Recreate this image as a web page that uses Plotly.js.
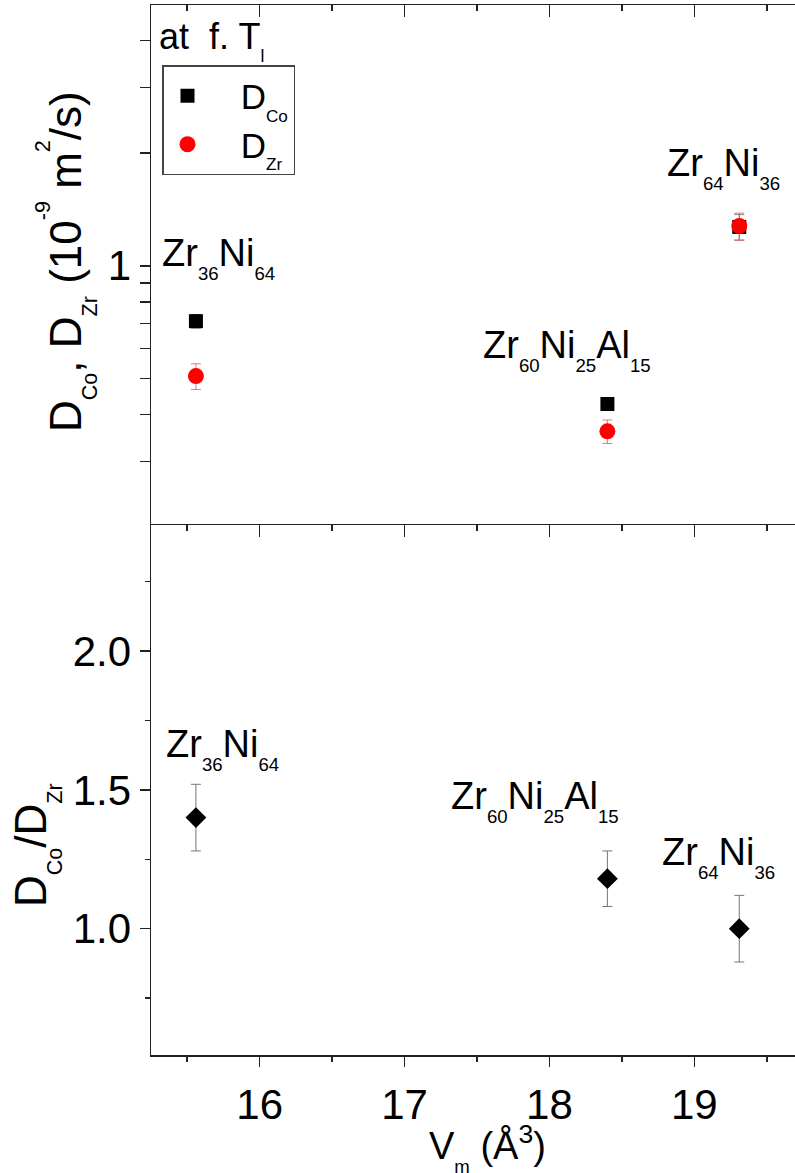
<!DOCTYPE html>
<html>
<head>
<meta charset="utf-8">
<script src="https://cdn.plot.ly/plotly-3.0.1.min.js"></script>
<style>
html,body{margin:0;padding:0;overflow:hidden;background:#fff;}
#chart{width:804px;height:1173px;}
</style>
</head>
<body>
<div id="chart"></div>
<script>
// ---- data ----
const compositions = ['Zr36Ni64', 'Zr60Ni25Al15', 'Zr64Ni36'];
const vm = [15.56, 18.40, 19.31];
const dCo = [0.711, 0.427, 1.27];
const dCoErr = [0.03, 0.015, 0.10];
const dZr = [0.507, 0.361, 1.277];
const dZrErr = [0.04, 0.026, 0.105];
const ratio = [1.40, 1.18, 1.00];
const ratioErr = [0.12, 0.10, 0.12];
const logTickVals = [0.3, 0.4, 0.5, 0.6, 0.7, 0.8, 0.9, 1, 2, 3, 4];
const logTickText = ['', '', '', '', '', '', '', '1', '', '', ''];
const xTickVals = [16, 17, 18, 19];
const sb = s => '<sub><sub>' + s + '</sub></sub>';
const sp = s => '<sup><sup>' + s + '</sup></sup>';
const labels = [
  'Zr' + sb('36') + 'Ni' + sb('64'),
  'Zr' + sb('60') + 'Ni' + sb('25') + 'Al' + sb('15'),
  'Zr' + sb('64') + 'Ni' + sb('36')
];

// ---- geometry helpers (layout only) ----
const L = 151, W = 652, T = 5, H = 1050;
const px = x => (x - L) / W;
const py = y => (T + H - y) / H;
const FONT = 'Liberation Sans, Arial, sans-serif';
const lc = '#222';

const traces = [
  {
    x: vm, y: dCo, xaxis: 'x2', yaxis: 'y', type: 'scatter', mode: 'markers',
    name: '\u00a0\u00a0\u00a0D' + sb('Co'),
    marker: {symbol: 'square', size: 14, color: '#000'},
    error_y: {type: 'data', array: dCoErr, visible: true, color: '#888', thickness: 1, width: 5}
  },
  {
    x: vm, y: dZr, xaxis: 'x2', yaxis: 'y', type: 'scatter', mode: 'markers',
    name: '\u00a0\u00a0\u00a0D' + sb('Zr'),
    marker: {symbol: 'circle', size: 16, color: '#ff0000'},
    error_y: {type: 'data', array: dZrErr, visible: true, color: 'rgba(255,60,60,0.75)', thickness: 1, width: 5}
  },
  {
    x: vm, y: ratio, xaxis: 'x', yaxis: 'y2', type: 'scatter', mode: 'markers',
    showlegend: false,
    marker: {symbol: 'diamond', size: 16, color: '#000'},
    error_y: {type: 'data', array: ratioErr, visible: true, color: '#777', thickness: 1, width: 5}
  },
  // empty helper trace so the mirrored tick axis at the panel boundary is drawn
  {x: [], y: [], xaxis: 'x3', yaxis: 'y2', type: 'scatter', mode: 'markers', showlegend: false, hoverinfo: 'skip'}
];

const ann = (text, x, y, size, extra) => Object.assign({
  text, xref: 'paper', yref: 'paper', x: px(x), y: py(y), showarrow: false,
  xanchor: 'left', yanchor: 'middle', font: {family: FONT, size: size, color: '#000'}
}, extra || {});

const annotations = [
  ann('at  f. T' + sb('l'), 157, 41, 36),
  ann(labels[0], 160, 258, 38),
  ann(labels[1], 481, 350, 38),
  ann(labels[2], 665, 168, 38),
  ann(labels[0], 164, 749, 38),
  ann(labels[1], 449, 801, 38),
  ann(labels[2], 660, 857, 38),
  ann('D' + sb('Co') + ', D' + sb('Zr') + ' (10' + sp('-9') + ' m' + sp('2') + '/s)', 66, 262, 44,
      {xanchor: 'center', textangle: -90}),
  ann('D' + sb('Co') + '/D' + sb('Zr'), 36, 845, 44, {xanchor: 'center', textangle: -90}),
  ann('V' + sb('m') + ' (Å<sup>3</sup>)', 487, 1148, 38, {xanchor: 'center'})
];

const baseAx = {
  showgrid: false, zeroline: false, showline: true, linecolor: lc, linewidth: 1.5,
  tickcolor: lc, tickwidth: 1.5, tickfont: {family: FONT, size: 42, color: '#000'}
};
const minorX = (dir) => ({dtick: 0.5, tick0: 15.5, ticks: dir, ticklen: 6, tickwidth: 1.5, tickcolor: lc});

const layout = {
  width: 804, height: 1173,
  margin: {l: L, r: 1, t: T, b: 118},
  paper_bgcolor: '#fff', plot_bgcolor: '#fff',
  font: {family: FONT, color: '#000'},
  showlegend: true,
  legend: {
    x: px(162), y: py(65), xanchor: 'left', yanchor: 'top',
    bordercolor: '#444', borderwidth: 1.5, bgcolor: '#fff',
    font: {family: FONT, size: 35, color: '#000'}, itemwidth: 38
  },
  xaxis: Object.assign({}, baseAx, {
    anchor: 'y2', domain: [0, 1], range: [15.25, 19.75],
    tickvals: xTickVals, ticks: 'outside', ticklen: 10, mirror: true, ticklabelstandoff: 2,
    minor: Object.assign(minorX('outside'), {ticklen: 5})
  }),
  xaxis3: Object.assign({}, baseAx, {
    overlaying: 'x', anchor: 'y2', side: 'top', range: [15.25, 19.75],
    tickvals: xTickVals, ticks: 'inside', ticklen: 12, showticklabels: false, showline: false,
    minor: minorX('inside')
  }),
  xaxis2: Object.assign({}, baseAx, {
    anchor: 'y', side: 'top', matches: 'x', range: [15.25, 19.75],
    tickvals: xTickVals, ticks: 'inside', ticklen: 12, mirror: false, showticklabels: false,
    minor: minorX('inside')
  }),
  yaxis: Object.assign({}, baseAx, {
    anchor: 'x2', domain: [py(525), 1], type: 'log', range: [-0.693, 0.697],
    tickvals: logTickVals, ticktext: logTickText, ticks: 'outside', ticklen: 10, mirror: true
  }),
  yaxis3: Object.assign({}, baseAx, {
    overlaying: 'y', anchor: 'x2', side: 'right', type: 'log', range: [-0.693, 0.697],
    tickvals: logTickVals, ticks: 'inside', ticklen: 10, showticklabels: false, showline: false
  }),
  yaxis2: Object.assign({}, baseAx, {
    anchor: 'x', domain: [0, py(525)], range: [0.545, 2.454],
    dtick: 0.5, tick0: 0, tickformat: '.1f', ticks: 'outside', ticklen: 10, mirror: true,
    minor: {dtick: 0.25, tick0: 0, ticks: 'outside', ticklen: 5, tickwidth: 1.5, tickcolor: lc}
  }),
  yaxis4: Object.assign({}, baseAx, {
    overlaying: 'y2', anchor: 'x', side: 'right', range: [0.545, 2.454],
    dtick: 0.5, tick0: 0, ticks: 'inside', ticklen: 10, showticklabels: false, showline: false,
    minor: {dtick: 0.25, tick0: 0, ticks: 'inside', ticklen: 5, tickwidth: 1.5, tickcolor: lc}
  }),
  annotations
};

Plotly.newPlot('chart', traces, layout, {displayModeBar: false, staticPlot: true});
</script>
</body>
</html>
